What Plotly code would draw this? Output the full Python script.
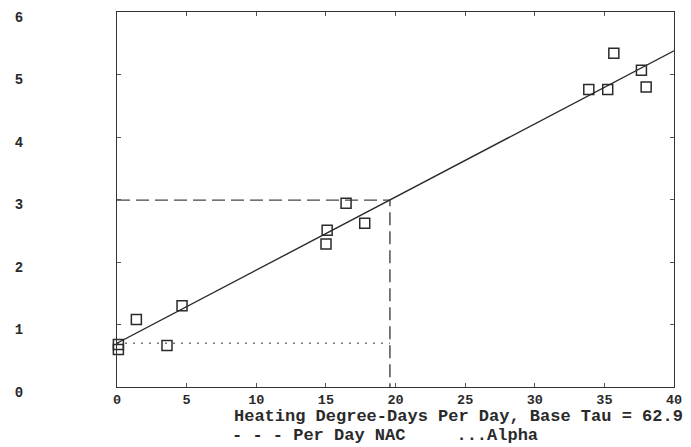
import plotly.graph_objects as go

# observed data points (Heating degree-days per day, consumption per day)
obs_x = [0.1, 0.1, 1.39, 3.59, 4.67, 15.09, 15.01, 16.45, 17.79, 33.88, 35.24, 35.68, 37.66, 38.0]
obs_y = [0.68, 0.60, 1.08, 0.665, 1.30, 2.51, 2.29, 2.94, 2.62, 4.76, 4.76, 5.34, 5.07, 4.80]

# fitted line endpoints
fit_x = [0, 40]
fit_y = [0.70, 5.38]

# reference values
alpha = 0.70
nac_x = 19.6
nac_y = 2.99

x_ticks = [0, 5, 10, 15, 20, 25, 30, 35, 40]
y_ticks = [0, 1, 2, 3, 4, 5, 6]

title_line1 = "Heating Degree-Days Per Day, Base Tau = 62.9"
title_line2 = "- - - Per Day NAC\u00a0\u00a0\u00a0\u00a0\u00a0...Alpha"

INK = "#2a2a2a"
MONO = "Liberation Mono, Courier New, monospace"

fig = go.Figure()

# dotted alpha line
fig.add_trace(go.Scatter(x=[0, nac_x], y=[alpha, alpha], mode="lines",
                         line=dict(color="#777777", width=1.5, dash="2px,6px"),
                         showlegend=False, hoverinfo="skip"))
# dashed NAC lines
fig.add_trace(go.Scatter(x=[0, nac_x, nac_x], y=[nac_y, nac_y, 0], mode="lines",
                         line=dict(color="#444444", width=1.4, dash="13px,6px"),
                         showlegend=False, hoverinfo="skip"))
# fitted line
fig.add_trace(go.Scatter(x=fit_x, y=fit_y, mode="lines",
                         line=dict(color=INK, width=1.4),
                         showlegend=False))
# observations
fig.add_trace(go.Scatter(x=obs_x, y=obs_y, mode="markers",
                         marker=dict(symbol="square-open", size=10,
                                     color=INK, line=dict(width=1.5, color=INK)),
                         showlegend=False, cliponaxis=False))

fig.update_layout(
    width=683, height=439,
    margin=dict(l=109, r=17, t=4, b=60, autoexpand=False),
    paper_bgcolor="white", plot_bgcolor="white",
    font=dict(family=MONO, color=INK),
    xaxis=dict(range=[0, 40], tickvals=x_ticks, ticktext=[str(v) for v in x_ticks],
               automargin=False,
               showgrid=False, zeroline=False, showline=True, linecolor="#333333",
               linewidth=1.3, mirror="ticks", ticks="inside", ticklen=4,
               tickcolor="#555555", ticklabelstandoff=0,
               tickfont=dict(family=MONO, size=13.5, color=INK, weight="bold")),
    yaxis=dict(range=[0, 6], tickvals=y_ticks, ticktext=[str(v) for v in y_ticks],
               automargin=False,
               showgrid=False, zeroline=False, showline=True, linecolor="#333333",
               linewidth=1.3, mirror="ticks", ticks="inside", ticklen=4,
               tickcolor="#555555", ticklabelstandoff=90, ticklabelshift=5,
               tickfont=dict(family=MONO, size=14, color=INK, weight="bold")),
    annotations=[
        dict(text=title_line1, xref="paper", yref="paper", x=1.019, y=-0.078,
             xanchor="right", yanchor="middle", showarrow=False,
             font=dict(family=MONO, size=17, color=INK, weight="bold")),
        dict(text=title_line2, xref="paper", yref="paper", x=0.2035, y=-0.1285,
             xanchor="left", yanchor="middle", showarrow=False,
             font=dict(family=MONO, size=17, color=INK, weight="bold")),
    ],
)

fig.write_html("out.html")
